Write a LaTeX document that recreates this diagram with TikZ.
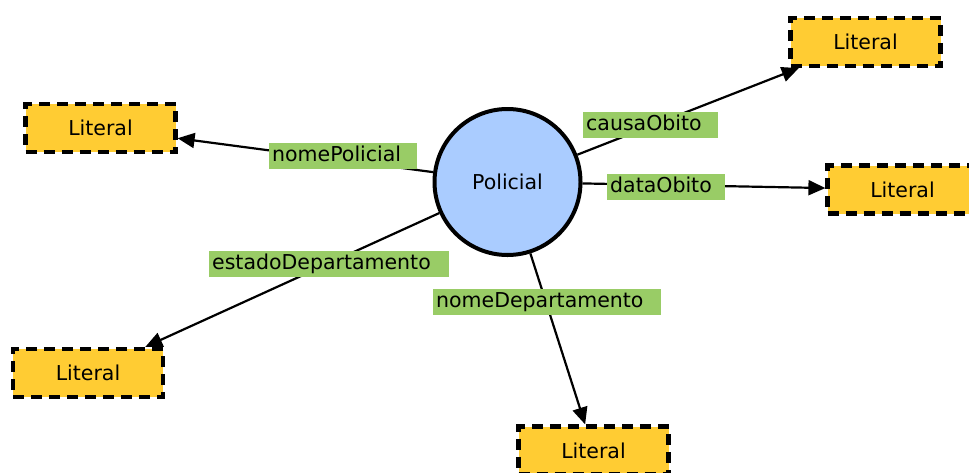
\documentclass[tikz,border=0pt]{standalone}
\usepackage{fontspec}
\setmainfont{DejaVu Sans}
\usetikzlibrary{arrows.meta}
\definecolor{literalfill}{RGB}{255,204,51}
\definecolor{classfill}{RGB}{170,204,255}
\definecolor{propfill}{RGB}{153,204,102}
\begin{document}
\begin{tikzpicture}[x=1pt,y=-1pt,
  font=\fontsize{20.5}{24}\selectfont,
  literal/.style={draw=black, fill=literalfill, line width=4.2pt,
    dash pattern=on 11pt off 7pt, minimum width=150pt, minimum height=48pt,
    inner sep=0pt},
  classnode/.style={circle, draw=black, fill=classfill, line width=4pt,
    minimum size=146pt, inner sep=0pt},
  prop/.style={fill=propfill, anchor=north west, align=left,
    inner xsep=3pt, inner ysep=3.5pt, text height=15pt, text depth=4pt},
  link/.style={line width=2.2pt, -{Triangle[length=17pt,width=15pt]}}]
  \useasboundingbox (0,0) rectangle (969,472);

  % class node and its literal values
  \node[classnode] (pol) at (507.5,182) {Policial};
  \node[literal] (lTR) at (865.5,42) {Literal};
  \node[literal] (lR)  at (902.5,189.5) {Literal};
  \node[literal] (lTL) at (100.5,128) {Literal};
  \node[literal] (lBL) at (88,373) {Literal};
  \node[literal] (lB)  at (593.5,450.5) {Literal};

  % properties
  \draw[link] (pol) -- (lTR);
  \draw[link] (pol) -- (lR);
  \draw[link] (pol) -- (lTL);
  \draw[link] (pol) -- (lBL);
  \draw[link] (pol) -- (lB);

  % property labels
  \node[prop, text width=142pt] (pNome)  at (269,143) {nomePolicial};
  \node[prop, text width=129pt] (pCausa) at (583,112) {causaObito};
  \node[prop, text width=112pt] (pData)  at (607,174) {dataObito};
  \node[prop, text width=234pt] (pEst)   at (209,251) {estadoDepartamento};
  \node[prop, text width=222pt] (pDep)   at (433,289) {nomeDepartamento};
\end{tikzpicture}
\end{document}
